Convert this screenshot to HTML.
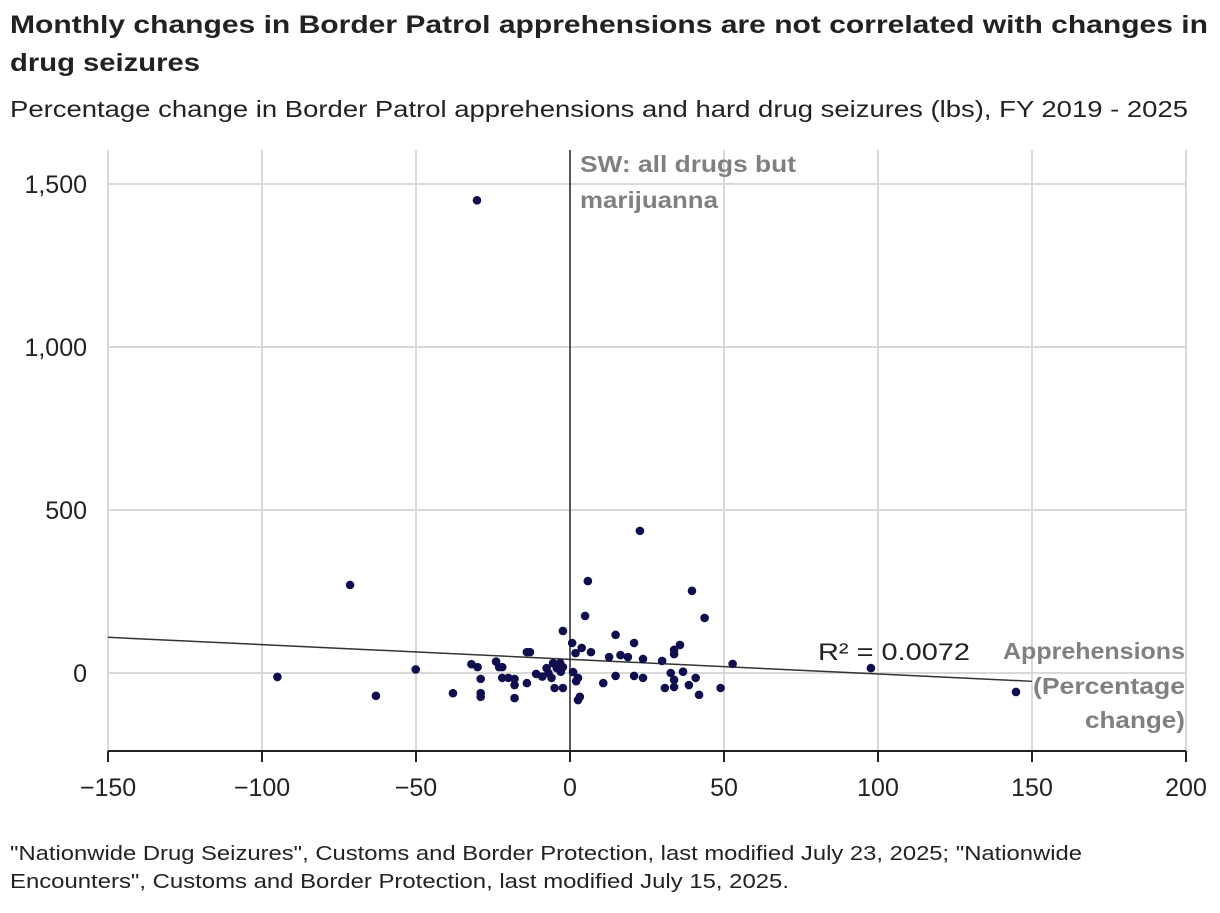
<!DOCTYPE html>
<html><head><meta charset="utf-8"><style>
body{margin:0;background:#fff;width:1220px;height:908px;overflow:hidden;font-family:"Liberation Sans",sans-serif;}
</style></head><body>
<svg width="1220" height="908" xmlns="http://www.w3.org/2000/svg">
<text x="10" y="33" font-size="25" font-weight="bold" fill="#222" textLength="1198" lengthAdjust="spacingAndGlyphs">Monthly changes in Border Patrol apprehensions are not correlated with changes in</text>
<text x="10" y="71" font-size="25" font-weight="bold" fill="#222" textLength="190" lengthAdjust="spacingAndGlyphs">drug seizures</text>
<text x="10" y="117" font-size="23" fill="#222" textLength="1178" lengthAdjust="spacingAndGlyphs">Percentage change in Border Patrol apprehensions and hard drug seizures (lbs), FY 2019 - 2025</text>
<g id="grid"></g><g id="marks"></g>
<text x="10" y="860" font-size="20" fill="#222" textLength="1072" lengthAdjust="spacingAndGlyphs">"Nationwide Drug Seizures", Customs and Border Protection, last modified July 23, 2025; "Nationwide</text>
<text x="10" y="888" font-size="20" fill="#222" textLength="779" lengthAdjust="spacingAndGlyphs">Encounters", Customs and Border Protection, last modified July 15, 2025.</text>
</svg>
<script>
const xTicks=[-150,-100,-50,0,50,100,150,200];
const yTicks=[0,500,1000,1500];
const yTickLabels=["0","500","1,000","1,500"];
const xVals=[-50.1,-38,-32,-30,-29,-29,-29,-24,-23,-22,-22,-20,-18,-18,-18,-14,-13,-14,-11,-9,-7.6,-7,-6,-5.5,-5,-4.3,-3.2,-3,-2.3,-2.3,-2.3,0.7,1,1.8,3.8,2,2.6,3.2,2.6,4.9,5.8,6.8,10.8,12.7,14.8,14.8,16.4,18.8,20.8,20.8,23.7,23.7,29.9,30.8,32.7,33.8,33.8,33.8,33.8,35.7,36.7,39.6,38.6,40.8,41.9,43.7,48.9,52.8,-30.2,-71.4,-95,-63,22.7,97.7,144.8];
const yVals=[11,-62,27,18,-18,-62,-73,35,18,18,-15,-15,-18,-37,-77,64,64,-31,-3,-11,15,0,-15,30,-46,15,30,4,-46,129,18,92,3,61,77,-25,-15,-73,-83,175,282,64,-31,49,117,-9,55,49,92,-9,43,-15,37,-46,0,71,58,-21,-43,86,4,252,-37,-15,-67,169,-46,28,1450,270,-12,-70,436,15,-58];
const fitSlope=-0.45, fitIntercept=42;
const NS="http://www.w3.org/2000/svg";
const X=v=>570+v*3.08, Y=v=>673-v*0.326;
const grid=document.getElementById('grid'), marks=document.getElementById('marks');
function mk(tag,attrs,parent,txt){const e=document.createElementNS(NS,tag);for(const k in attrs)e.setAttribute(k,attrs[k]);if(txt!==undefined)e.textContent=txt;parent.appendChild(e);return e;}
xTicks.forEach(t=>{
  if(t!==0){const l=mk('line',{x1:X(t),x2:X(t),y1:150,y2:751,stroke:'#d9d9d9','stroke-width':2},grid);
  
  }
  const tk=mk('line',{x1:X(t),x2:X(t),y1:751,y2:762,stroke:'#222','stroke-width':2},grid);
  
  
  const lb=mk('text',{x:X(t),y:796,'font-size':25,fill:'#222','text-anchor':'middle'},grid,String(t).replace('-','\u2212'));
  
  
});
yTicks.forEach((t,i)=>{
  const l=mk('line',{x1:108,x2:1186,y1:Y(t),y2:Y(t),stroke:'#d9d9d9','stroke-width':2},grid);
  
  
  const lb=mk('text',{x:87,y:Y(t)+9,'font-size':25,fill:'#222','text-anchor':'end'},grid,yTickLabels[i]);
  
  
});
const ax=mk('line',{x1:108,x2:1186,y1:751,y2:751,stroke:'#222','stroke-width':2},grid);


const zl=mk('line',{x1:X(0),x2:X(0),y1:150,y2:751,stroke:'#222','stroke-width':1.5},grid);


const fl=mk('line',{x1:X(-150),y1:Y(fitIntercept+fitSlope*-150),x2:X(150),y2:Y(fitIntercept+fitSlope*150),stroke:'#333','stroke-width':1.5},marks);


xVals.forEach((v,i)=>{
  const c=mk('circle',{cx:X(v),cy:Y(yVals[i]),r:4.3,fill:'#0f0f4d'},marks);
  
  
});
const r2=mk('text',{x:818,y:660,'font-size':24,fill:'#222',textLength:152,lengthAdjust:'spacingAndGlyphs'},marks,'R² = 0.0072');


[['SW: all drugs but',172,216],['marijuanna',208,138]].forEach(([s,y,w])=>{
  const t=mk('text',{x:580,y:y,'font-size':23,'font-weight':'bold',fill:'#808080',textLength:w,lengthAdjust:'spacingAndGlyphs'},marks,s);
  
  
});
[['Apprehensions',659,182],['(Percentage',694,152],['change)',728,100]].forEach(([s,y,w])=>{
  const t=mk('text',{x:1185-w,y:y,'font-size':23,'font-weight':'bold',fill:'#808080',textLength:w,lengthAdjust:'spacingAndGlyphs'},marks,s);
  
  
});
</script>
</body></html>
